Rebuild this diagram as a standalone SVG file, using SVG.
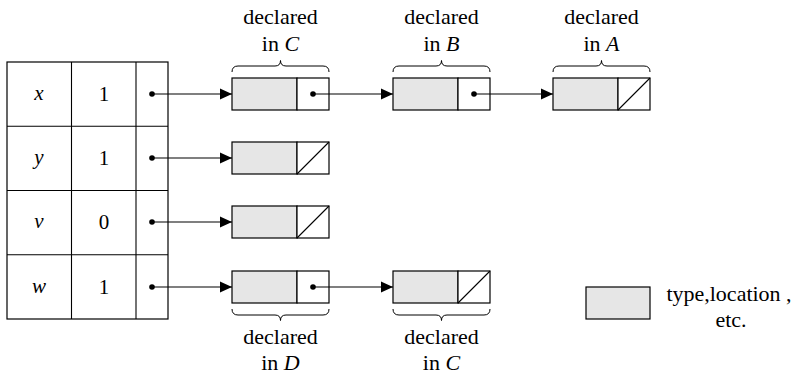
<svg xmlns="http://www.w3.org/2000/svg" width="796" height="377" viewBox="0 0 796 377" font-family="Liberation Serif, serif">
<style>
text{font-family:"Liberation Serif",serif;font-size:22px;fill:#000;text-anchor:middle}
.i{font-style:italic}
.s{font-size:21px}
.cell{fill:#fff;stroke:#000;stroke-width:1.2}
.g{fill:#e6e6e6;stroke:#000;stroke-width:1.2}
.p{fill:#fff;stroke:#000;stroke-width:1.2}
.ln{stroke:#000;stroke-width:1.1;fill:none}
.br{stroke:#000;stroke-width:1;fill:none}
.dot{fill:#000}
</style>
<defs>
<marker id="ah" viewBox="0 0 12 12" refX="12" refY="6" markerWidth="12" markerHeight="12" markerUnits="userSpaceOnUse" orient="auto">
<path d="M0,0.5 L12,6 L0,11.5 z" fill="#000"/>
</marker>
<g id="nullnode">
<rect class="g" x="0" y="0" width="65" height="32"/>
<rect class="p" x="65" y="0" width="32" height="32"/>
<line class="ln" x1="65" y1="32" x2="97" y2="0"/>
</g>
<g id="ptrnode">
<rect class="g" x="0" y="0" width="65" height="32"/>
<rect class="p" x="65" y="0" width="32" height="32"/>
<circle class="dot" cx="81" cy="16" r="2.8"/>
</g>
</defs>

<g id="table">
<rect class="cell" x="7" y="62" width="161" height="257"/>
<line class="ln" x1="71.5" y1="62" x2="71.5" y2="319"/>
<line class="ln" x1="136" y1="62" x2="136" y2="319"/>
<line class="ln" x1="7" y1="126.25" x2="168" y2="126.25"/>
<line class="ln" x1="7" y1="190.5" x2="168" y2="190.5"/>
<line class="ln" x1="7" y1="254.75" x2="168" y2="254.75"/>
<text class="s i" x="39" y="100">x</text>
<text class="s i" x="39" y="164">y</text>
<text class="s i" x="39" y="228">v</text>
<text class="s i" x="39" y="293">w</text>
<text class="s" x="104" y="101">1</text>
<text class="s" x="104" y="165">1</text>
<text class="s" x="104" y="229">0</text>
<text class="s" x="104" y="294">1</text>
<circle class="dot" cx="152" cy="94" r="2.8"/>
<circle class="dot" cx="152" cy="158" r="2.8"/>
<circle class="dot" cx="152" cy="222" r="2.8"/>
<circle class="dot" cx="152" cy="287" r="2.8"/>
</g>

<g id="node-x1"><use href="#ptrnode" x="232" y="78"/></g>
<g id="node-x2"><use href="#ptrnode" x="393" y="78"/></g>
<g id="node-x3"><use href="#nullnode" x="553" y="78"/></g>
<g id="node-y1"><use href="#nullnode" x="232" y="142"/></g>
<g id="node-v1"><use href="#nullnode" x="232" y="206"/></g>
<g id="node-w1"><use href="#ptrnode" x="232" y="271"/></g>
<g id="node-w2"><use href="#nullnode" x="393" y="271"/></g>

<g id="connectors">
<line class="ln" x1="152" y1="94" x2="232" y2="94" marker-end="url(#ah)"/>
<line class="ln" x1="152" y1="158" x2="232" y2="158" marker-end="url(#ah)"/>
<line class="ln" x1="152" y1="222" x2="232" y2="222" marker-end="url(#ah)"/>
<line class="ln" x1="152" y1="287" x2="232" y2="287" marker-end="url(#ah)"/>
<line class="ln" x1="313" y1="94" x2="393" y2="94" marker-end="url(#ah)"/>
<line class="ln" x1="474" y1="94" x2="553" y2="94" marker-end="url(#ah)"/>
<line class="ln" x1="313" y1="287" x2="393" y2="287" marker-end="url(#ah)"/>
</g>

<g id="braces">
<path class="br" d="M232,72 Q232,66 238,66 L275,66 Q280.5,66 280.5,60.5 Q280.5,66 286,66 L323,66 Q329,66 329,72"/>
<path class="br" d="M393,72 Q393,66 399,66 L436,66 Q441.5,66 441.5,60.5 Q441.5,66 447,66 L484,66 Q490,66 490,72"/>
<path class="br" d="M553,72 Q553,66 559,66 L596,66 Q601.5,66 601.5,60.5 Q601.5,66 607,66 L644,66 Q650,66 650,72"/>
<path class="br" d="M232,309 Q232,315 238,315 L275,315 Q280.5,315 280.5,320.5 Q280.5,315 286,315 L323,315 Q329,315 329,309"/>
<path class="br" d="M393,309 Q393,315 399,315 L436,315 Q441.5,315 441.5,320.5 Q441.5,315 447,315 L484,315 Q490,315 490,309"/>
</g>

<g id="labels">
<text x="280.5" y="24">declared</text>
<text x="280.5" y="51">in <tspan class="i">C</tspan></text>
<text x="441.5" y="24">declared</text>
<text x="441.5" y="51">in <tspan class="i">B</tspan></text>
<text x="601.5" y="24">declared</text>
<text x="601.5" y="51">in <tspan class="i">A</tspan></text>
<text x="280.5" y="344">declared</text>
<text x="280.5" y="370">in <tspan class="i">D</tspan></text>
<text x="441.5" y="344">declared</text>
<text x="441.5" y="370">in <tspan class="i">C</tspan></text>
</g>

<g id="legend">
<rect class="g" x="586" y="287" width="64" height="32"/>
<text x="729" y="301">type,location ,</text>
<text x="731" y="327">etc.</text>
</g>
</svg>
